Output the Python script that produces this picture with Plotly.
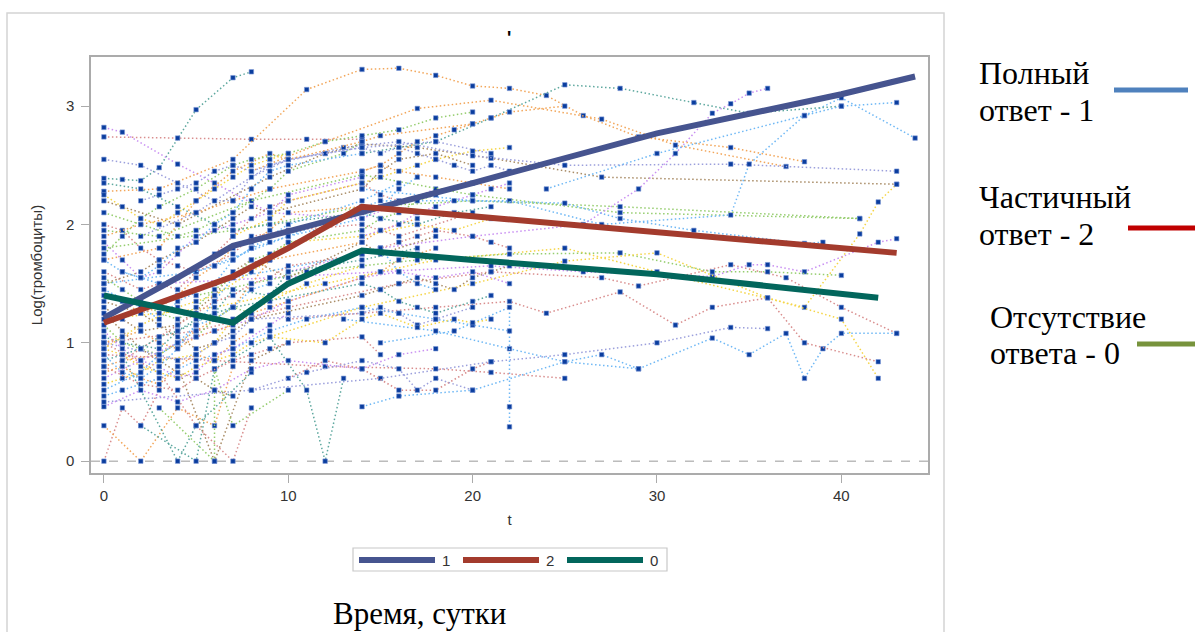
import plotly.graph_objects as go

# ---------------- data ----------------
# individual patient trajectories: (days, log platelet values)
subject_days = [
    [0, 1, 2, 3, 5, 7, 8],
    [0, 1, 4, 6, 9, 14, 18],
    [0, 4, 8, 11, 14],
    [0, 3, 7, 11, 14, 16, 18, 20, 22, 24, 26, 29, 34, 38],
    [8, 12, 17, 21, 27, 31, 37],
    [0, 4, 9, 12, 14, 17, 21, 27, 43],
    [2, 5, 9, 13, 16, 20, 25, 34, 43],
    [0, 3, 8, 14, 20, 28, 41],
    [0, 5, 10, 15, 22, 27, 34, 35, 38, 40, 44],
    [10, 15, 20, 26, 29, 31, 33, 34, 35, 36],
    [14, 18, 21, 25, 28, 32, 35, 40],
    [24, 30, 38, 40, 43],
    [0, 6, 12, 18, 25, 30, 38, 41, 42, 43],
    [0, 7, 14, 20, 28, 41],
    [14, 20, 25, 28, 32, 38, 39],
    [0, 5, 10, 16, 21, 27, 29, 34, 37, 40, 43],
    [3, 9, 15, 21, 26, 33, 35, 36, 38, 42, 43],
    [5, 11, 17, 22, 28, 33, 36, 40],
    [8, 14, 20, 25, 30, 36, 40, 42],
    [13, 18, 22, 25, 29, 33, 35, 37, 38, 39, 40, 43],
    [10, 18, 22, 24, 28, 31, 33, 36, 38, 42],
    [0, 8, 15, 21, 25, 30, 34, 36],
    [15, 19, 22, 22, 22],
    [0, 6, 12, 18, 21, 25],
    [14, 16, 20, 25, 27, 29],
    [0, 1, 2, 3],
    [0, 2, 4, 6, 7],
    [1, 4, 5, 8],
    [2, 5, 6, 9, 11, 12, 13],
    [3, 6, 6, 7, 10],
    [4, 6, 8, 10],
    [0, 3, 5, 7, 8],
    [0, 1, 2, 3, 4, 5, 7, 9, 10, 14],
    [0, 2, 3, 4, 6, 7, 8, 10, 14, 16],
    [0, 1, 3, 5, 7, 8, 9, 14, 15, 17],
    [0, 2, 4, 5, 7, 9, 10, 13, 14],
    [0, 1, 2, 4, 6, 7, 8, 10, 14, 15, 18],
    [0, 1, 2, 3, 5, 6, 7, 9, 11, 14],
    [0, 2, 3, 4, 5, 7, 8, 10, 14, 16, 20],
    [0, 1, 3, 4, 6, 7, 9, 10, 14, 17],
    [0, 2, 4, 6, 7, 8, 10, 12, 14, 18, 21],
    [0, 1, 2, 3, 4, 5, 6, 7, 14, 15, 16, 17, 18],
    [0, 3, 4, 5, 7, 9, 10, 14, 15, 20],
    [0, 1, 2, 3, 4, 5, 6, 7, 8, 9, 10],
    [0, 2, 4, 6, 8, 10, 14, 16, 18, 20, 22],
    [0, 1, 2, 3, 4, 5, 6, 7, 8, 9, 10, 14, 15, 16],
    [0, 2, 3, 5, 6, 7, 8, 9, 14, 15, 16, 18, 20],
    [0, 1, 2, 4, 5, 6, 8, 9, 10, 14, 17, 19, 21],
    [0, 1, 3, 5, 7, 9, 11, 14, 16, 18, 20, 22],
    [0, 2, 4, 6, 7, 9, 14, 15, 17, 19, 21],
    [0, 1, 2, 3, 4, 5, 6, 7, 8, 9, 10, 14],
    [0, 3, 4, 5, 6, 7, 8, 14, 15, 16, 17, 18, 20],
    [0, 1, 2, 3, 5, 7, 8, 10, 12, 14, 16, 18, 20],
    [0, 2, 4, 5, 7, 8, 9, 10, 14, 15],
    [1, 2, 3, 4, 5, 6, 7, 8, 9, 10, 14],
    [0, 1, 2, 3, 4, 5, 6, 7],
    [0, 2, 4, 6, 8, 10, 14, 16, 18],
    [7, 9, 10, 14, 15, 17, 18, 20, 22],
    [0, 2, 5, 7, 9, 14, 15, 16, 18, 20, 22],
    [10, 12, 14, 16, 18, 20, 21],
    [8, 11, 14, 16, 17, 18, 20],
    [9, 12, 14, 15, 17, 19, 20, 21],
    [0, 1, 2, 3, 4, 5, 6, 7, 8],
    [0, 1, 2, 3, 4, 5, 6, 7, 9, 10],
    [0, 2, 3, 4, 5, 6, 7, 8, 9],
    [0, 1, 2, 3, 4, 5, 6, 7, 8, 9, 10, 14, 15, 16, 17, 18],
    [1, 2, 3, 4, 5, 6, 7, 8, 9, 10, 14, 15, 16, 17, 18, 20, 21, 22],
    [0, 1, 2, 3, 4, 5, 6, 7, 8, 9, 10],
    [0, 2, 3, 4, 5, 6, 7, 8, 14, 15, 16, 17, 18, 19, 20, 21, 22],
    [0, 1, 2, 3, 4, 5, 6, 7, 14, 15, 16, 17, 18, 20, 21],
    [2, 3, 4, 5, 6, 7, 8, 9, 10, 14, 15, 16, 17, 18, 19, 20, 21, 22],
    [0, 1, 2, 3, 4, 5, 6, 7, 8, 9, 10, 14, 15, 16, 17, 18],
    [0, 1, 2, 3, 4, 6, 7, 8, 9, 10, 14, 15, 16, 17],
    [14, 15, 16, 17, 18, 19, 20, 21, 22, 25],
    [0, 1, 2, 3, 4, 5, 6, 7, 8],
    [14, 15, 16, 17, 18, 19, 20, 21, 22],
]
subject_values = [
    [2.39, 2.38, 2.37, 2.48, 2.97, 3.24, 3.29],
    [2.82, 2.78, 2.51, 2.35, 2.10, 2.05, 2.30],
    [2.74, 2.73, 2.72, 2.72, 2.72],
    [2.28, 2.30, 2.55, 3.14, 3.31, 3.32, 3.26, 3.17, 3.15, 3.09, 2.92, 2.74, 2.65, 2.53],
    [2.45, 2.70, 2.98, 3.05, 2.89, 2.67, 2.49],
    [2.20, 2.00, 2.40, 2.60, 2.68, 2.65, 2.56, 2.40, 2.34],
    [1.90, 2.10, 2.50, 2.65, 2.70, 2.58, 2.50, 2.51, 2.45],
    [1.95, 1.90, 2.20, 2.42, 2.25, 2.10, 2.05],
    [1.50, 1.60, 1.90, 2.20, 2.20, 2.00, 2.08, 2.51, 2.92, 3.07, 2.73],
    [1.60, 1.80, 1.90, 2.00, 2.30, 2.60, 2.94, 3.02, 3.11, 3.15],
    [2.60, 2.70, 2.90, 3.18, 3.15, 3.03, 2.94, 3.00],
    [2.30, 2.60, 2.92, 3.00, 3.03],
    [1.20, 1.30, 1.50, 1.70, 1.80, 1.60, 1.30, 1.92, 2.19, 2.34],
    [1.80, 1.95, 2.15, 2.20, 2.15, 2.05],
    [2.30, 2.20, 2.18, 2.05, 1.95, 1.84, 1.85],
    [1.00, 1.10, 1.30, 1.50, 1.60, 1.55, 1.48, 1.66, 1.55, 1.30, 1.08],
    [1.50, 1.55, 1.60, 1.65, 1.60, 1.56, 1.66, 1.66, 1.60, 1.85, 1.88],
    [1.40, 1.60, 1.70, 1.75, 1.76, 1.60, 1.60, 1.57],
    [1.00, 1.30, 1.50, 1.69, 1.76, 1.38, 1.20, 0.70],
    [1.20, 1.10, 0.95, 0.84, 0.78, 1.04, 0.90, 1.08, 0.70, 0.95, 1.08, 1.08],
    [1.20, 1.30, 1.35, 1.25, 1.43, 1.15, 1.30, 1.38, 1.00, 0.84],
    [0.50, 0.60, 0.70, 0.84, 0.90, 1.00, 1.13, 1.12],
    [1.00, 1.10, 1.30, 0.46, 0.29],
    [0.90, 0.85, 0.80, 0.78, 0.75, 0.70],
    [0.46, 0.55, 0.60, 0.84, 0.90, 0.78],
    [0.00, 0.45, 0.30, 0.60],
    [0.30, 0.00, 0.45, 0.30, 0.80],
    [0.90, 0.00, 0.30, 0.75],
    [0.30, 0.00, 0.78, 1.05, 0.60, 0.00, 0.70],
    [0.45, 0.00, 0.78, 0.30, 0.60],
    [0.80, 0.00, 0.85, 1.00],
    [1.00, 0.75, 0.30, 0.00, 0.45],
    [1.85, 1.70, 1.55, 1.60, 1.75, 1.90, 2.00, 2.10, 2.25, 2.40],
    [1.45, 1.30, 1.20, 1.35, 1.50, 1.70, 1.80, 2.00, 2.20, 2.35],
    [0.80, 0.85, 0.90, 1.10, 1.30, 1.50, 1.70, 1.85, 1.95, 2.05],
    [2.10, 2.00, 1.90, 1.95, 2.10, 2.30, 2.45, 2.60, 2.70],
    [1.30, 1.20, 1.10, 1.15, 1.40, 1.60, 1.70, 1.55, 1.85, 1.75, 1.90],
    [0.65, 0.70, 0.75, 0.85, 0.90, 1.00, 1.20, 1.35, 1.50, 1.65],
    [1.60, 1.45, 1.50, 1.45, 1.60, 1.75, 1.90, 1.95, 2.00, 1.90, 2.10],
    [1.05, 1.00, 0.95, 1.10, 1.25, 1.45, 1.40, 1.60, 1.70, 1.80],
    [2.55, 2.50, 2.35, 2.20, 2.20, 2.40, 2.55, 2.60, 2.65, 2.70, 2.60],
    [0.90, 0.75, 0.70, 0.80, 0.95, 1.15, 1.35, 1.55, 1.75, 1.80, 1.60, 1.50, 1.45],
    [1.70, 1.80, 2.00, 2.20, 2.45, 2.60, 2.55, 2.70, 2.75, 2.85],
    [1.15, 1.00, 0.95, 0.90, 1.00, 1.05, 1.20, 1.30, 1.25, 1.40, 1.50],
    [0.70, 0.85, 1.00, 1.10, 1.20, 1.35, 1.55, 1.60, 1.55, 1.60, 1.50],
    [2.00, 1.95, 1.80, 1.70, 1.65, 1.60, 1.75, 1.90, 2.05, 2.15, 2.20, 2.35, 2.25, 2.20],
    [1.50, 1.60, 1.70, 1.85, 1.95, 2.05, 2.15, 2.10, 2.30, 2.45, 2.55, 2.60, 2.50],
    [0.95, 1.05, 1.15, 1.30, 1.35, 1.40, 1.60, 1.70, 1.85, 1.90, 2.00, 1.95, 2.05],
    [0.55, 0.60, 0.70, 0.85, 0.95, 1.10, 1.20, 1.30, 1.25, 1.20, 1.15, 1.10],
    [2.35, 2.30, 2.15, 2.00, 1.95, 2.00, 2.10, 2.05, 2.00, 2.10, 2.15],
    [1.40, 1.35, 1.25, 1.30, 1.40, 1.55, 1.65, 1.80, 1.85, 1.95, 2.10, 2.15],
    [1.00, 0.90, 0.85, 0.90, 1.00, 1.05, 1.20, 1.25, 1.30, 1.25, 1.15, 1.20, 1.30],
    [1.75, 1.90, 2.05, 2.15, 2.30, 2.50, 2.55, 2.60, 2.70, 2.75, 2.80, 2.90, 2.95],
    [0.80, 0.65, 0.60, 0.70, 0.85, 0.90, 0.95, 1.00, 1.05, 0.90],
    [1.60, 1.55, 1.65, 1.80, 1.85, 2.00, 2.10, 2.30, 2.45, 2.50, 2.60],
    [1.25, 1.10, 0.95, 0.85, 0.75, 0.70, 0.60, 0.55],
    [0.46, 0.60, 0.50, 0.60, 0.78, 0.85, 0.78, 0.90, 0.95],
    [1.90, 2.05, 2.20, 2.35, 2.40, 2.50, 2.55, 2.62, 2.65],
    [1.90, 2.00, 2.10, 2.20, 2.30, 2.45, 2.50, 2.45, 2.40, 2.35, 2.30],
    [0.70, 0.85, 0.78, 0.60, 0.60, 0.78, 0.84],
    [0.60, 0.75, 0.85, 0.78, 0.60, 0.70, 0.60],
    [1.05, 1.00, 1.20, 1.25, 1.13, 1.20, 1.17, 1.20],
    [0.75, 0.80, 0.70, 0.65, 0.80, 0.90, 0.85, 1.00, 1.10],
    [1.10, 0.95, 0.85, 0.80, 0.70, 0.75, 0.90, 0.95, 1.15, 1.25],
    [0.60, 0.75, 0.90, 1.00, 1.15, 1.20, 1.30, 1.45, 1.50],
    [1.55, 1.45, 1.35, 1.25, 1.20, 1.30, 1.45, 1.55, 1.70, 1.75, 1.85, 1.95, 2.05, 2.10, 2.20, 2.25],
    [0.85, 0.95, 1.05, 1.15, 1.25, 1.35, 1.40, 1.50, 1.55, 1.65, 1.75, 1.80, 1.85, 1.90, 1.95, 1.90, 1.85, 1.80],
    [2.25, 2.15, 2.05, 2.00, 2.10, 2.20, 2.30, 2.40, 2.50, 2.55, 2.60],
    [1.35, 1.25, 1.15, 1.05, 0.95, 1.00, 1.10, 1.20, 1.40, 1.45, 1.50, 1.55, 1.50, 1.45, 1.55, 1.60, 1.65],
    [0.85, 0.90, 0.95, 1.05, 1.10, 1.20, 1.25, 1.30, 1.50, 1.45, 1.35, 1.30, 1.25, 1.35, 1.40],
    [2.20, 2.25, 2.30, 2.35, 2.45, 2.50, 2.45, 2.50, 2.55, 2.65, 2.60, 2.65, 2.60, 2.55, 2.50, 2.45, 2.50, 2.45],
    [1.00, 1.05, 1.10, 1.00, 0.95, 1.05, 1.10, 1.15, 1.25, 1.30, 1.35, 1.55, 1.60, 1.70, 1.75, 1.80],
    [1.70, 1.60, 1.55, 1.50, 1.55, 1.65, 1.70, 1.80, 1.85, 1.90, 2.05, 2.15, 2.30, 2.40],
    [2.45, 2.50, 2.60, 2.70, 2.75, 2.80, 2.85, 2.90, 2.95, 3.00],
    [0.95, 0.90, 0.80, 0.75, 0.70, 0.80, 0.85, 0.90, 1.00],
    [1.90, 1.95, 2.00, 2.10, 2.15, 2.20, 2.25, 2.30, 2.35],
]
subject_color_idx = [7, 3, 4, 0, 0, 6, 8, 1, 2, 3, 7, 2, 5, 1, 2, 4, 3, 1, 5, 2, 4, 8, 2, 4, 2,
                     4, 0, 7, 7, 1, 6, 4, 3, 2, 0, 1, 6, 5, 4, 7, 8, 2, 0, 1, 3, 4, 6, 5, 2, 7,
                     0, 8, 1, 4, 2, 6, 3, 5, 0, 4, 8, 5,
                     0, 3, 2, 1, 4, 5, 6, 7, 8, 0, 2, 0, 5, 3]

# mean curves by response group
group_labels = ["1", "2", "0"]
mean_days = {
    "1": [0, 4, 7, 10, 14, 20, 30, 40, 44],
    "2": [0, 7, 10, 14, 20, 30, 43],
    "0": [0, 7, 10, 14, 20, 30, 42],
}
mean_values = {
    "1": [1.21, 1.55, 1.82, 1.94, 2.10, 2.35, 2.77, 3.10, 3.25],
    "2": [1.17, 1.56, 1.80, 2.15, 2.07, 1.93, 1.76],
    "0": [1.40, 1.17, 1.50, 1.78, 1.70, 1.58, 1.38],
}

x_ticks = [0, 10, 20, 30, 40]
y_ticks = [0, 1, 2, 3]

side_labels = [("Полный", "ответ - 1"), ("Частичный", "ответ - 2"), ("Отсутствие", "ответа - 0")]

# ---------------- styles ----------------
palette = ["#f2a65a", "#95cd6e", "#6fb8f5", "#c990f2", "#d98e8e", "#f5d547", "#a98c66", "#5ea89f", "#9b9fdc"]
group_colors = {"1": "#46548f", "2": "#a33b2d", "0": "#02665c"}
side_colors = ["#4f81bd", "#c00000", "#77933c"]

# plot-area geometry in pixels (for decorations outside the axes)
L, T, R, B = 91, 57, 928, 473
W, H = 1195, 632
def px(x):
    return (x - L) / (R - L)
def py(y):
    return (B - y) / (B - T)

fig = go.Figure()

for d, v, ci in zip(subject_days, subject_values, subject_color_idx):
    fig.add_trace(go.Scatter(
        x=d, y=v, mode="lines+markers",
        line=dict(color=palette[ci], width=1.5, dash="1.5px,2.5px"),
        marker=dict(symbol="square", size=4.5, color="#0a3d9e",
                    line=dict(color="#7f9ad6", width=0.6)),
        showlegend=False, hoverinfo="skip"))

for g in group_labels:
    fig.add_trace(go.Scatter(
        x=mean_days[g], y=mean_values[g], mode="lines",
        line=dict(color=group_colors[g], width=6),
        showlegend=False, name=g, hoverinfo="skip"))

shapes = []
# zero reference line
shapes.append(dict(type="line", xref="paper", yref="y", x0=0, x1=1, y0=0, y1=0,
                   line=dict(color="#9a9a9a", width=1, dash="dash"), layer="below"))
# outer frame
shapes.append(dict(type="rect", xref="paper", yref="paper",
                   x0=px(7), x1=px(944), y0=py(650), y1=py(13),
                   line=dict(color="#d4d4d4", width=1.5), fillcolor="rgba(0,0,0,0)"))
# internal legend box
shapes.append(dict(type="rect", xref="paper", yref="paper",
                   x0=px(353), x1=px(667), y0=py(571), y1=py(548),
                   line=dict(color="#c8c8c8", width=1.2), fillcolor="rgba(0,0,0,0)"))
annotations = []
leg_x = [359, 463, 567]
for g, lx in zip(group_labels, leg_x):
    shapes.append(dict(type="line", xref="paper", yref="paper",
                       x0=px(lx), x1=px(lx + 76), y0=py(560), y1=py(560),
                       line=dict(color=group_colors[g], width=6)))
    annotations.append(dict(xref="paper", yref="paper", x=px(lx + 81), y=py(560),
                            text=g, showarrow=False, xanchor="left", yanchor="middle",
                            font=dict(family="Liberation Sans, Arial", size=15, color="#333333")))

# right-hand side legend (text + colored bars)
serif = "Liberation Serif, Times New Roman"
side_pos = [(977, 73, 110, 1114, 1188, 90), (977, 197, 234, 1128, 1200, 228), (988, 317, 353, 1137, 1200, 344)]
for (l1, l2), (tx, y1, y2, bx0, bx1, by), c in zip(side_labels, side_pos, side_colors):
    annotations.append(dict(xref="paper", yref="paper", x=px(tx), y=py(y1), text=l1,
                            showarrow=False, xanchor="left", yanchor="middle",
                            font=dict(family=serif, size=32, color="#000")))
    annotations.append(dict(xref="paper", yref="paper", x=px(tx), y=py(y2), text=l2,
                            showarrow=False, xanchor="left", yanchor="middle",
                            font=dict(family=serif, size=32, color="#000")))
    shapes.append(dict(type="line", xref="paper", yref="paper", x0=px(bx0), x1=px(bx1),
                       y0=py(by), y1=py(by), line=dict(color=c, width=5)))

# bottom caption
annotations.append(dict(xref="paper", yref="paper", x=px(419), y=py(633), text="Время, сутки",
                        showarrow=False, xanchor="center", yanchor="bottom",
                        font=dict(family=serif, size=31, color="#000")))
# small title mark
annotations.append(dict(xref="paper", yref="paper", x=px(509), y=py(38), text="<b>'</b>",
                        showarrow=False, xanchor="center", yanchor="middle",
                        font=dict(family="Liberation Sans, Arial", size=18, color="#000")))

axis_common = dict(showgrid=False, zeroline=False, showline=True, linecolor="#ababab",
                   linewidth=1.5, mirror=True, ticks="outside", ticklen=8, tickcolor="#ababab",
                   tickfont=dict(family="Liberation Sans, Arial", size=15, color="#333333"))

fig.update_layout(
    width=W, height=H,
    margin=dict(l=L, r=W - R, t=T, b=H - B, pad=0),
    paper_bgcolor="white", plot_bgcolor="white",
    hovermode=False,
    xaxis=dict(range=[-0.7, 44.7], tickvals=x_ticks,
               title=dict(text="t", font=dict(family="Liberation Sans, Arial", size=15, color="#333"), standoff=12),
               **axis_common),
    yaxis=dict(range=[-0.10, 3.415], tickvals=y_ticks, ticklabelstandoff=4,
               title=dict(text="Log(тромбоциты)", font=dict(family="Liberation Sans, Arial", size=15, color="#333"), standoff=20),
               **axis_common),
    shapes=shapes, annotations=annotations, showlegend=False,
)

fig.write_html("out.html", config={"displayModeBar": False},
               post_script="document.body.style.margin='0';document.body.style.overflow='hidden';")
